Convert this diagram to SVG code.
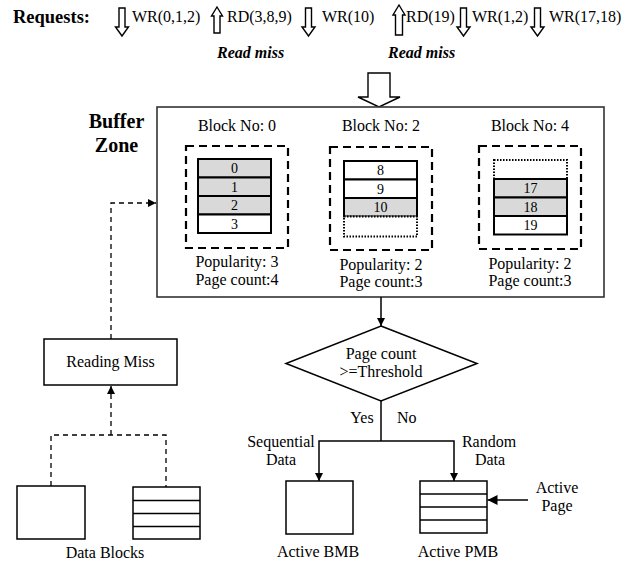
<svg xmlns="http://www.w3.org/2000/svg" width="636" height="565" viewBox="0 0 636 565">
  <defs>
    <style>
      text { font-family: "Liberation Serif", "Times New Roman", serif; font-size: 16px; fill: #000; }
      .b { font-weight: bold; }
      .bi { font-weight: bold; font-style: italic; }
      .mid { text-anchor: middle; }
      .num { font-size: 14px; text-anchor: middle; }
      .hollow { fill: #fff; stroke: #000; stroke-width: 1.4; }
      .frame { fill: #fff; stroke: #333; stroke-width: 1.6; }
      .group { fill: none; stroke: #000; stroke-width: 2.2; stroke-dasharray: 8 5; }
      .cell { fill: #fff; stroke: #000; stroke-width: 2; }
      .cell.on { fill: #d9d9d9; }
      .free { fill: #fff; stroke: #000; stroke-width: 2; stroke-dasharray: 1.5 1.5; }
      .box { fill: #fff; stroke: #000; stroke-width: 1.5; }
      .line { fill: none; stroke: #000; stroke-width: 1.5; }
      .dash { fill: none; stroke: #000; stroke-width: 1.3; stroke-dasharray: 5 4; }
    </style>
    <marker id="tip" viewBox="0 0 10 10" refX="10" refY="5" markerWidth="8" markerHeight="8" markerUnits="userSpaceOnUse" orient="auto">
      <path d="M0,0 L10,5 L0,10 Z" fill="#000"/>
    </marker>
    <marker id="tipL" viewBox="0 0 10 10" refX="10" refY="5" markerWidth="10" markerHeight="10" markerUnits="userSpaceOnUse" orient="auto">
      <path d="M0,0 L10,5 L0,10 Z" fill="#000"/>
    </marker>
    <!-- hollow request arrows, drawn at origin -->
    <path id="down" d="M-3,8 L3,8 L3,27 L6.5,27 L0,36 L-6.5,27 L-3,27 Z"/>
    <path id="up" d="M0,7 L5.5,16 L3,16 L3,33 L-3,33 L-3,16 L-5.5,16 Z"/>
    <path id="upTall" d="M0,5 L6,15 L3.5,15 L3.5,35 L-3.5,35 L-3.5,15 L-6,15 Z"/>
  </defs>

  <!-- request stream -->
  <g id="requests">
    <text class="b" x="13" y="23" textLength="77" lengthAdjust="spacingAndGlyphs" style="font-size:18px">Requests:</text>
    <use href="#down" class="hollow" x="122" y="0"/>
    <text x="132" y="22">WR(0,1,2)</text>
    <use href="#up" class="hollow" x="217" y="0"/>
    <text x="227" y="22">RD(3,8,9)</text>
    <use href="#down" class="hollow" x="308.5" y="0"/>
    <text x="322" y="22">WR(10)</text>
    <use href="#upTall" class="hollow" x="399" y="0"/>
    <text x="406" y="22">RD(19)</text>
    <use href="#down" class="hollow" x="463.5" y="0"/>
    <text x="472" y="22">WR(1,2)</text>
    <use href="#down" class="hollow" x="537.5" y="0"/>
    <text x="549" y="22">WR(17,18)</text>
    <text class="bi" x="217" y="58">Read miss</text>
    <text class="bi" x="388" y="58">Read miss</text>
  </g>

  <!-- big hollow arrow into the buffer -->
  <g id="input-arrow">
    <path class="hollow" d="M368,73 L390,73 L390,97 L400,97 L379,107 L358,97 L368,97 Z"/>
  </g>

  <!-- buffer zone -->
  <g id="buffer-zone">
    <rect class="frame" x="157" y="107" width="447" height="190"/>
    <text class="b mid" x="116.5" y="128" style="font-size:20px">Buffer</text>
    <text class="b mid" x="116.5" y="152" style="font-size:20px">Zone</text>
  </g>

  <g id="block-0">
    <text class="mid" x="237" y="131">Block No: 0</text>
    <rect class="group" x="186" y="146" width="102" height="102"/>
    <rect class="cell on" x="198" y="159" width="73" height="18.5"/>
    <rect class="cell on" x="198" y="177.5" width="73" height="18.5"/>
    <rect class="cell on" x="198" y="196" width="73" height="18.5"/>
    <rect class="cell" x="198" y="214.5" width="73" height="18.5"/>
    <text class="num" x="234.5" y="173">0</text>
    <text class="num" x="234.5" y="191.5">1</text>
    <text class="num" x="234.5" y="210">2</text>
    <text class="num" x="234.5" y="228.5">3</text>
    <text class="mid" x="237" y="267">Popularity: 3</text>
    <text class="mid" x="237" y="285">Page count:4</text>
  </g>

  <g id="block-2">
    <text class="mid" x="381" y="131">Block No: 2</text>
    <rect class="group" x="330" y="147" width="102" height="103"/>
    <rect class="cell" x="344" y="161" width="73" height="18.5"/>
    <rect class="cell" x="344" y="179.5" width="73" height="18.5"/>
    <rect class="cell on" x="344" y="198" width="73" height="18.5"/>
    <rect class="free" x="344" y="216.5" width="73" height="20"/>
    <text class="num" x="380.5" y="175">8</text>
    <text class="num" x="380.5" y="193.5">9</text>
    <text class="num" x="380.5" y="212">10</text>
    <text class="mid" x="381" y="270">Popularity: 2</text>
    <text class="mid" x="381" y="287">Page count:3</text>
  </g>

  <g id="block-4">
    <text class="mid" x="530" y="131">Block No: 4</text>
    <rect class="group" x="479" y="146" width="102" height="103"/>
    <rect class="free" x="494" y="160" width="73" height="19"/>
    <rect class="cell on" x="494" y="179" width="73" height="18.5"/>
    <rect class="cell on" x="494" y="197.5" width="73" height="18.5"/>
    <rect class="cell" x="494" y="216" width="73" height="18.5"/>
    <text class="num" x="530.5" y="193">17</text>
    <text class="num" x="530.5" y="211.5">18</text>
    <text class="num" x="530.5" y="230">19</text>
    <text class="mid" x="530" y="269">Popularity: 2</text>
    <text class="mid" x="530" y="286">Page count:3</text>
  </g>

  <!-- read-miss path -->
  <g id="reading-miss">
    <rect class="box" x="44" y="339" width="133" height="46"/>
    <text class="mid" x="110.5" y="367">Reading Miss</text>
  </g>

  <g id="data-blocks">
    <rect class="box" x="17" y="486" width="68" height="53"/>
    <rect class="box" x="133" y="487" width="67" height="52"/>
    <line class="line" x1="133" y1="500.5" x2="200" y2="500.5"/>
    <line class="line" x1="133" y1="513.5" x2="200" y2="513.5"/>
    <line class="line" x1="133" y1="526.5" x2="200" y2="526.5"/>
    <text class="mid" x="105" y="558">Data Blocks</text>
  </g>

  <!-- decision -->
  <g id="decision">
    <polygon class="box" points="381,326 477,363.5 381,401 286,363.5"/>
    <text class="mid" x="381" y="359">Page count</text>
    <text class="mid" x="381" y="377">&gt;=Threshold</text>
  </g>

  <g id="active-bmb">
    <rect class="box" x="286" y="481" width="67" height="53"/>
    <text class="mid" x="318" y="557">Active BMB</text>
  </g>

  <g id="active-pmb">
    <rect class="box" x="420" y="481" width="67" height="52"/>
    <line class="line" x1="420" y1="494" x2="487" y2="494"/>
    <line class="line" x1="420" y1="507" x2="487" y2="507"/>
    <line class="line" x1="420" y1="520" x2="487" y2="520"/>
    <text class="mid" x="458" y="557">Active PMB</text>
  </g>

  <g id="connectors">
    <!-- reading miss up to the buffer -->
    <path class="dash" d="M111,339 L111,203 L156,203" marker-end="url(#tip)"/>
    <!-- data blocks up to reading miss -->
    <path class="dash" d="M51,486 L51,435 L166,435 L166,487"/>
    <path class="dash" d="M111,435 L111,386" marker-end="url(#tip)"/>
    <!-- buffer to decision -->
    <path class="line" d="M381,297 L381,326" marker-end="url(#tip)"/>
    <!-- decision branches -->
    <path class="line" d="M381,401 L381,441"/>
    <path class="line" d="M381,441 L319,441 L319,481" marker-end="url(#tip)"/>
    <path class="line" d="M381,441 L454,441 L454,481" marker-end="url(#tip)"/>
    <!-- active page pointer -->
    <path class="line" d="M528,500 L487.5,500" marker-end="url(#tipL)"/>
  </g>

  <g id="labels">
    <text class="mid" x="362" y="423">Yes</text>
    <text x="397" y="423">No</text>
    <text class="mid" x="281" y="447">Sequential</text>
    <text class="mid" x="281" y="465">Data</text>
    <text class="mid" x="489" y="447">Random</text>
    <text class="mid" x="490" y="465">Data</text>
    <text class="mid" x="557" y="493">Active</text>
    <text class="mid" x="557" y="511">Page</text>
  </g>
</svg>
